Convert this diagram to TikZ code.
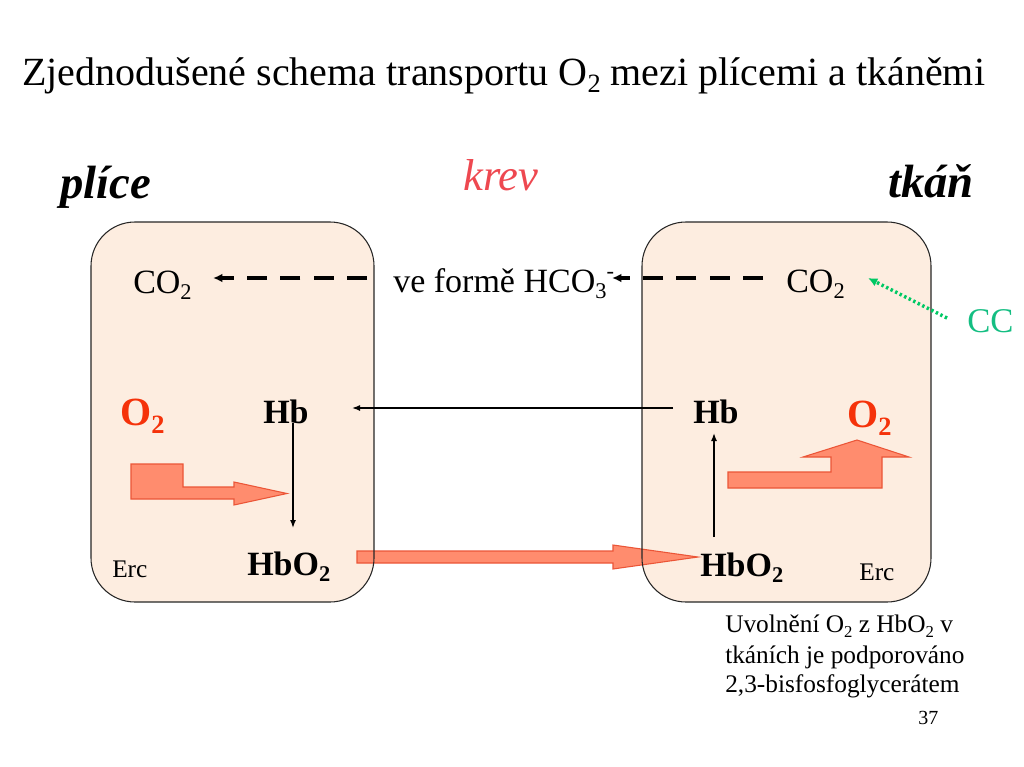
\documentclass[tikz,border=0pt]{standalone}
\usepackage{fontspec}
\setmainfont{Liberation Serif}
\usepackage{graphicx}
\usetikzlibrary{arrows.meta,calc}
\newcommand\dn[1]{\raisebox{-0.2em}{\scalebox{0.66}{#1}}}
\newcommand\up[1]{\raisebox{0.4em}{\scalebox{0.66}{#1}}}
\definecolor{boxfill}{RGB}{253,237,224}
\definecolor{oxred}{RGB}{245,50,10}
\definecolor{krevc}{RGB}{238,72,80}
\definecolor{arrfill}{RGB}{255,140,110}
\definecolor{arrdraw}{RGB}{235,85,55}
\definecolor{ccgreen}{RGB}{20,190,130}
\definecolor{dotgreen}{RGB}{0,200,100}
\begin{document}
\begin{tikzpicture}[x=0.75pt,y=-0.75pt,
  txt/.style={anchor=base west, inner sep=0pt},
  cellfill/.style={fill=boxfill, rounded corners=33pt},
  celldraw/.style={draw=black!85, line width=0.8pt, rounded corners=33pt},
  block/.style={fill=arrfill, draw=arrdraw, line width=0.8pt},
  thinarr/.style={line width=1.1pt, -{Latex[length=6pt,width=4.5pt]}},
  dasharr/.style={line width=2.6pt, dash pattern=on 15pt off 10pt, -{Latex[length=7pt,width=6.5pt]}},
  dotarr/.style={line width=2.6pt, dotgreen, dash pattern=on 1.8pt off 2pt, -{Latex[length=7pt,width=6.5pt]}},
  f30/.style={font=\fontsize{30}{36}\selectfont},
  fhead/.style={font=\fontsize{35}{40}\selectfont\bfseries\itshape},
  fmid/.style={font=\fontsize{25.5}{30}\selectfont},
  fbold/.style={font=\fontsize{25.5}{30}\selectfont\bfseries},
  fox/.style={font=\fontsize{30}{36}\selectfont\bfseries, text=oxred},
  fsmall/.style={font=\fontsize{19}{22}\selectfont},
]
\useasboundingbox (0,0) rectangle (1024,767);

% cells (fill)
\path[cellfill] (91,222) rectangle (374,602);
\path[cellfill] (642,222) rectangle (931,602);

% texts
\node[txt,f30] (title) at (22,85) {Zjednodušené schema transportu O\dn{2} mezi plícemi a tkáněmi};
\node[txt,fhead] (plice) at (60,198) {plíce};
\node[txt,fhead] (tkan) at (888,197) {tkáň};
\node[txt,font=\fontsize{33.5}{40}\selectfont\itshape,text=krevc] (krev) at (463,190) {krev};

\node[txt,fmid] (co2l) at (133,293) {CO\dn{2}};
\node[txt,fmid] (hco) at (393,292) {ve formě HCO\dn{3}\up{-}};
\node[txt,fmid] (co2r) at (786,292) {CO\dn{2}};
\node[txt,font=\fontsize{26}{30}\selectfont,text=ccgreen] (cc) at (967,332) {CC};

\node[txt,fox] (o2l) at (120,425) {O\dn{2}};
\node[txt,fbold] (hbl) at (263,423) {Hb};
\node[txt,fbold] (hbr) at (693,423) {Hb};
\node[txt,fox] (o2r) at (847,427) {O\dn{2}};

\node[txt,fbold] (hbo2l) at (247,575) {HbO\dn{2}};
\node[txt,fbold] (hbo2r) at (700,576) {HbO\dn{2}};
\node[txt,fsmall] (ercl) at (112,577) {Erc};
\node[txt,fsmall] (ercr) at (859,580) {Erc};

\node[txt,fsmall] (n1) at (725,632) {Uvolnění O\dn{2} z HbO\dn{2} v};
\node[txt,fsmall] (n2) at (725,663) {tkáních je podporováno};
\node[txt,fsmall] (n3) at (725,692) {2,3-bisfosfoglycerátem};
\node[txt,font=\fontsize{15}{18}\selectfont] (pg) at (918,724) {37};

% block arrows
\path[block] (131,464) -- (183,464) -- (183,487) -- (234,487) -- (234,482) -- (287,493.5) -- (234,505) -- (234,499) -- (131,499) -- cycle;
\path[block] (357,551) -- (613,551) -- (613,545) -- (698,557) -- (613,569) -- (613,563) -- (357,563) -- cycle;
\path[block] (728,472) -- (831,472) -- (831,457) -- (803,457) -- (857,440) -- (909,457) -- (882,457) -- (882,488) -- (728,488) -- cycle;

% cells (outline)
\path[celldraw] (91,222) rectangle (374,602);
\path[celldraw] (642,222) rectangle (931,602);

% connectors
\draw[dasharr] ($(hco.base west)+(-26,-14)$) -- ($(co2l.base west)+(80,-15)$);
\draw[dasharr] ($(co2r.base west)+(-23,-14)$) -- ($(hco.base west)+(219,-14)$);
\draw[dotarr] ($(cc.base west)+(-20,-14)$) -- ($(co2r.base west)+(82,-14)$);
\draw[thinarr] ($(hbr.base west)+(-20,-15)$) -- ($(hbl.base west)+(89,-15)$);
\draw[thinarr] ($(hbl.base west)+(30,0)$) -- ($(hbo2l.base west)+(46,-47)$);
\draw[thinarr] ($(hbo2r.base west)+(14,-39)$) -- ($(hbr.base west)+(21,10)$);
\end{tikzpicture}
\end{document}
